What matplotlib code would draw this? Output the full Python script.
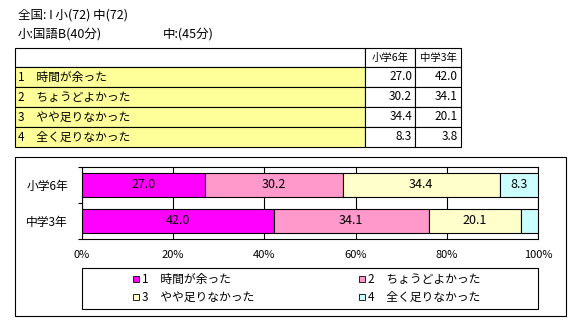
import matplotlib
matplotlib.use("Agg")
import matplotlib.pyplot as plt
from matplotlib.patches import Rectangle

plt.rcParams['font.family'] = ['Noto Sans CJK JP', 'DejaVu Sans']

# ---- data ----
title1 = "全国: I 小(72) 中(72)"
title2a = "小:国語B(40分)"
title2b = "中:(45分)"
categories = ["1　時間が余った", "2　ちょうどよかった", "3　やや足りなかった", "4　全く足りなかった"]
groups = ["小学6年", "中学3年"]
elem = [27.0, 30.2, 34.4, 8.3]
junior = [42.0, 34.1, 20.1, 3.8]
colors = ["#FF00FF", "#FF99CC", "#FFFFCC", "#CCFFFF"]
xticks = [0, 20, 40, 60, 80, 100]

W, H = 581, 333
fig = plt.figure(figsize=(W / 100, H / 100), dpi=100)

def fx(x):
    return x / W

def fy(y):
    return 1 - y / H

# ---- titles ----
fig.text(fx(18), fy(15), title1, fontsize=9, va="center", ha="left")
fig.text(fx(18), fy(34), title2a, fontsize=9, va="center", ha="left")
fig.text(fx(163), fy(34), title2b, fontsize=9, va="center", ha="left")

# ---- table ----
cols = [15, 365, 415, 461]
rows = [48, 67, 87, 107, 127, 147]
for i in range(len(rows) - 1):
    for j in range(len(cols) - 1):
        fc = "#FFFF99" if (i > 0 and j == 0) else "white"
        fig.patches.append(Rectangle((fx(cols[j]), fy(rows[i + 1])),
                                     fx(cols[j + 1]) - fx(cols[j]),
                                     fy(rows[i]) - fy(rows[i + 1]),
                                     transform=fig.transFigure, facecolor=fc,
                                     edgecolor="black", linewidth=0.8))
for j, g in enumerate(groups):
    fig.text(fx((cols[j + 1] + cols[j + 2]) / 2), fy((rows[0] + rows[1]) / 2), g,
             fontsize=7.5, ha="center", va="center")
for i, c in enumerate(categories):
    yc = fy((rows[i + 1] + rows[i + 2]) / 2)
    fig.text(fx(18), yc, c, fontsize=8.5, ha="left", va="center")
    fig.text(fx(cols[2] - 3), yc, f"{elem[i]:.1f}", fontsize=8.5, ha="right", va="center")
    fig.text(fx(cols[3] - 3), yc, f"{junior[i]:.1f}", fontsize=8.5, ha="right", va="center")

# ---- chart box ----
fig.patches.append(Rectangle((fx(15), fy(316)), fx(566) - fx(15), fy(157) - fy(316),
                             transform=fig.transFigure, facecolor="none",
                             edgecolor="black", linewidth=0.8))

ax = fig.add_axes([fx(82), fy(239), fx(538) - fx(82), fy(167) - fy(239)])
data = [elem, junior]
for k in range(len(categories)):
    lefts = [sum(d[:k]) for d in data]
    vals = [d[k] for d in data]
    bars = ax.barh(range(len(groups)), vals, left=lefts, height=0.65,
                   color=colors[k], edgecolor="black", linewidth=0.8, zorder=3)
    for b, v in zip(bars, vals):
        if v >= 5:
            ax.text(b.get_x() + b.get_width() / 2, b.get_y() + b.get_height() / 2,
                    f"{v:.1f}", ha="center", va="center", fontsize=9, zorder=4)

ax.set_xlim(0, 100)
ax.set_ylim(1.5, -0.5)
ax.set_xticks(xticks)
ax.set_xticklabels([f"{t}%" for t in xticks], fontsize=8)
ax.tick_params(axis="x", length=0, pad=8)
ax.set_yticks([0, 1])
ax.set_yticklabels(groups, fontsize=8.5)
ax.set_yticks([-0.5, 0.5, 1.5], minor=True)
ax.tick_params(axis="y", which="major", length=0, pad=10)
ax.tick_params(axis="y", which="minor", length=3, width=0.8, direction="out")
ax.grid(axis="x", color="black", linewidth=0.8, zorder=0)
for s in ax.spines.values():
    s.set_linewidth(0.8)

# ---- legend ----
fig.patches.append(Rectangle((fx(82), fy(309)), fx(538) - fx(82), fy(268) - fy(309),
                             transform=fig.transFigure, facecolor="white",
                             edgecolor="black", linewidth=0.8))
leg_pos = [(136, 279), (362, 279), (136, 297), (362, 297)]
for (px, py), c, lab in zip(leg_pos, colors, categories):
    fig.patches.append(Rectangle((fx(px - 3), fy(py + 3)), fx(6), fy(0) - fy(6),
                                 transform=fig.transFigure, facecolor=c,
                                 edgecolor="black", linewidth=0.6))
    fig.text(fx(px + 6), fy(py), lab, fontsize=8.5, ha="left", va="center")

fig.savefig("out.png", dpi=100)
